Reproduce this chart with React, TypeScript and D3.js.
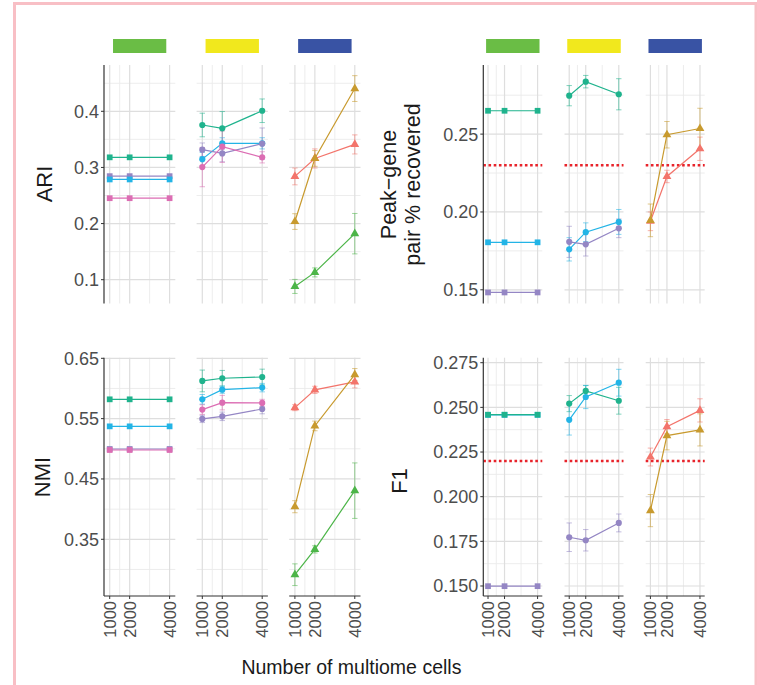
import * as d3 from "d3";

const W = 757;
const H = 685;

type Series = { key: string; v: number[]; e?: number[] };

const cells = [1000, 2000, 4000];
const minorCells = [1500, 3000];

// ARI
const ariTicks = [0.1, 0.2, 0.3, 0.4];
const ariMinor = [0.15, 0.25, 0.35, 0.45];
const ariSquare: Series[] = [
  { key: "teal", v: [0.318, 0.318, 0.318] },
  { key: "purple", v: [0.2845, 0.2845, 0.2845] },
  { key: "cyan", v: [0.2786, 0.2786, 0.2786] },
  { key: "pink", v: [0.2452, 0.2452, 0.2452] },
];
const ariCircle: Series[] = [
  { key: "teal", v: [0.3756, 0.3696, 0.401], e: [0.021, 0.03, 0.021] },
  { key: "cyan", v: [0.3148, 0.3429, 0.343], e: [0.012, 0.01, 0.01] },
  { key: "purple", v: [0.3316, 0.325, 0.3423], e: [0.012, 0.015, 0.028] },
  { key: "pink", v: [0.3006, 0.337, 0.318], e: [0.035, 0.028, 0.01] },
];
const ariTriangle: Series[] = [
  { key: "red", v: [0.284, 0.316, 0.341], e: [0.015, 0.017, 0.017] },
  { key: "gold", v: [0.2036, 0.316, 0.4405], e: [0.014, 0.014, 0.023] },
  { key: "green", v: [0.088, 0.113, 0.182], e: [0.0125, 0.008, 0.036] },
];

// Peak-gene pair % recovered
const peakTicks = [0.15, 0.2, 0.25];
const peakMinor = [0.175, 0.225, 0.275];
const peakBaseline = 0.23;
const peakSquare: Series[] = [
  { key: "teal", v: [0.265, 0.265, 0.265] },
  { key: "cyan", v: [0.1805, 0.1805, 0.1805] },
  { key: "purple", v: [0.1483, 0.1483, 0.1483] },
];
const peakCircle: Series[] = [
  { key: "teal", v: [0.2747, 0.2837, 0.2756], e: [0.0065, 0.004, 0.01] },
  { key: "cyan", v: [0.176, 0.187, 0.1936], e: [0.0075, 0.006, 0.008] },
  { key: "purple", v: [0.1808, 0.1792, 0.1895], e: [0.01, 0.0075, 0.006] },
];
const peakTriangle: Series[] = [
  { key: "red", v: [0.194, 0.2228, 0.2406], e: [0.006, 0.004, 0.0075] },
  { key: "gold", v: [0.1946, 0.2496, 0.2536], e: [0.0105, 0.0085, 0.013] },
];

// NMI
const nmiTicks = [0.35, 0.45, 0.55, 0.65];
const nmiMinor = [0.3, 0.4, 0.5, 0.6];
const nmiSquare: Series[] = [
  { key: "teal", v: [0.582, 0.582, 0.582] },
  { key: "cyan", v: [0.5372, 0.5372, 0.5372] },
  { key: "purple", v: [0.4997, 0.4997, 0.4997] },
  { key: "pink", v: [0.498, 0.498, 0.498] },
];
const nmiCircle: Series[] = [
  { key: "teal", v: [0.6125, 0.6169, 0.619], e: [0.018, 0.013, 0.013] },
  { key: "cyan", v: [0.582, 0.598, 0.6014], e: [0.008, 0.006, 0.007] },
  { key: "pink", v: [0.565, 0.5765, 0.576], e: [0.008, 0.012, 0.006] },
  { key: "purple", v: [0.5495, 0.5538, 0.566], e: [0.006, 0.007, 0.008] },
];
const nmiTriangle: Series[] = [
  { key: "red", v: [0.5682, 0.5976, 0.6109], e: [0.005, 0.006, 0.01] },
  { key: "gold", v: [0.404, 0.5379, 0.623], e: [0.01, 0.008, 0.01] },
  { key: "green", v: [0.2913, 0.3333, 0.4306], e: [0.018, 0.006, 0.046] },
];

// F1
const f1Ticks = [0.15, 0.175, 0.2, 0.225, 0.25, 0.275];
const f1Minor = [0.1625, 0.1875, 0.2125, 0.2375, 0.2625];
const f1Baseline = 0.22;
const f1Square: Series[] = [
  { key: "cyan", v: [0.2458, 0.2458, 0.2458] },
  { key: "teal", v: [0.2459, 0.2459, 0.2459] },
  { key: "purple", v: [0.1499, 0.1499, 0.1499] },
];
const f1Circle: Series[] = [
  { key: "teal", v: [0.2521, 0.2592, 0.2537], e: [0.0045, 0.003, 0.0075] },
  { key: "cyan", v: [0.243, 0.2558, 0.2638], e: [0.0085, 0.0065, 0.0075] },
  { key: "purple", v: [0.1773, 0.1756, 0.1853], e: [0.008, 0.006, 0.005] },
];
const f1Triangle: Series[] = [
  { key: "red", v: [0.2222, 0.2392, 0.2483], e: [0.005, 0.004, 0.0065] },
  { key: "gold", v: [0.1922, 0.2342, 0.2374], e: [0.009, 0.008, 0.009] },
];

const colors: Record<string, string> = {
  teal: "#1fb38d",
  cyan: "#23b4e6",
  purple: "#9486c4",
  pink: "#dc6db3",
  red: "#f3746b",
  gold: "#c89a2e",
  green: "#4cb548",
};
const stripColors = ["#6abd45", "#f1e81d", "#3953a4"];
const shapes = [d3.symbolSquare, d3.symbolCircle, d3.symbolTriangle];
const shapeSizes = [33, 30, 34];

const tickFont = "'Liberation Sans', Arial, sans-serif";

type GroupProps = {
  x0: number;
  fw: number;
  step: number;
  top: number;
  bottom: number;
  domain: [number, number];
  majors: number[];
  minors: number[];
  fmt: (v: number) => string;
  facets: Series[][];
  hline?: number;
  xAxis?: boolean;
};

function Group({ x0, fw, step, top, bottom, domain, majors, minors, fmt, facets, hline, xAxis }: GroupProps) {
  const y = d3.scaleLinear().domain(domain).range([bottom, top]);
  return (
    <g>
      {facets.map((series, fi) => {
        const fx = x0 + fi * step;
        const pad = fw * 0.08;
        const x = d3.scaleLinear().domain([1000, 4000]).range([fx + pad, fx + fw - pad]);
        const line = d3
          .line<number>()
          .x((_d, i) => x(cells[i]))
          .y((d) => y(d));
        const sym = d3.symbol().type(shapes[fi]).size(shapeSizes[fi]);
        return (
          <g key={fi}>
            {minors.map((t) => (
              <line key={"ym" + t} x1={fx} x2={fx + fw} y1={y(t)} y2={y(t)} stroke="#ebebeb" strokeWidth={0.9} />
            ))}
            {minorCells.map((c) => (
              <line key={"xm" + c} x1={x(c)} x2={x(c)} y1={top} y2={bottom} stroke="#ebebeb" strokeWidth={0.9} />
            ))}
            {majors.map((t) => (
              <line key={"yM" + t} x1={fx} x2={fx + fw} y1={y(t)} y2={y(t)} stroke="#dedede" strokeWidth={1.2} />
            ))}
            {cells.map((c) => (
              <line key={"xM" + c} x1={x(c)} x2={x(c)} y1={top} y2={bottom} stroke="#dedede" strokeWidth={1.2} />
            ))}
            {hline !== undefined && (
              <line
                x1={fx}
                x2={fx + fw}
                y1={y(hline)}
                y2={y(hline)}
                stroke="#e8232a"
                strokeWidth={2.4}
                strokeDasharray="2.6,2.6"
              />
            )}
            {series.map((s) => (
              <path key={"l" + s.key} d={line(s.v) ?? ""} fill="none" stroke={colors[s.key]} strokeWidth={1.2} />
            ))}
            {series.map((s) =>
              s.e ? (
                <g key={"e" + s.key} stroke={colors[s.key]} strokeOpacity={0.55} strokeWidth={1}>
                  {s.v.map((v, i) => {
                    const cx = x(cells[i]);
                    const y1 = y(v - s.e![i]);
                    const y2 = y(v + s.e![i]);
                    return (
                      <g key={i}>
                        <line x1={cx} x2={cx} y1={y1} y2={y2} />
                        <line x1={cx - 2.7} x2={cx + 2.7} y1={y1} y2={y1} />
                        <line x1={cx - 2.7} x2={cx + 2.7} y1={y2} y2={y2} />
                      </g>
                    );
                  })}
                </g>
              ) : null
            )}
            {series.map((s) =>
              s.v.map((v, i) => (
                <path
                  key={"p" + s.key + i}
                  d={sym() ?? ""}
                  transform={`translate(${x(cells[i])},${y(v)})`}
                  fill={colors[s.key]}
                />
              ))
            )}
            {xAxis && (
              <g>
                <line x1={fx} x2={fx + fw} y1={bottom} y2={bottom} stroke="#333" strokeWidth={1.1} />
                {cells.map((c) => (
                  <g key={"xt" + c}>
                    <line x1={x(c)} x2={x(c)} y1={bottom} y2={bottom + 3} stroke="#333" strokeWidth={1} />
                    <text
                      transform={`translate(${x(c)},${bottom + 5}) rotate(-90)`}
                      textAnchor="end"
                      dy="0.36em"
                      fontFamily={tickFont}
                      fontSize={16.5}
                      fill="#4d4d4d"
                    >
                      {c}
                    </text>
                  </g>
                ))}
              </g>
            )}
          </g>
        );
      })}
      {facets.map((_s, fi) => {
        const cx = x0 + fi * step + fw / 2;
        return <rect key={"s" + fi} x={cx - 26.5} y={39} width={53} height={14} fill={stripColors[fi]} />;
      })}
      <line x1={x0} x2={x0} y1={top} y2={bottom} stroke="#333" strokeWidth={1.2} />
      {majors.map((t) => (
        <g key={"yt" + t}>
          <line x1={x0 - 3} x2={x0} y1={y(t)} y2={y(t)} stroke="#333" strokeWidth={1} />
          <text
            x={x0 - 5}
            y={y(t)}
            dy="0.36em"
            textAnchor="end"
            fontFamily={tickFont}
            fontSize={18}
            fill="#4d4d4d"
          >
            {fmt(t)}
          </text>
        </g>
      ))}
    </g>
  );
}

export default function App() {
  const titleFont = "'Liberation Sans', Arial, sans-serif";
  const left = { x0: 104, fw: 71.3, step: 92.6 };
  const right = { x0: 483.3, fw: 59, step: 81.2 };
  const topRow = { top: 65, bottom: 303.5 };
  const botRow = { top: 357.7, bottom: 596 };
  return (
    <svg width={W} height={H} style={{ position: "absolute", left: 0, top: 0, background: "#fff" }}>
      <rect x={0} y={0} width={W} height={H} fill="#fff" />
      <rect x={14.5} y={3.5} width={741.5} height={690} fill="none" stroke="#f8bfc5" strokeWidth={3} />

      <Group
        {...left}
        {...topRow}
        domain={[0.0576, 0.4825]}
        majors={ariTicks}
        minors={ariMinor}
        fmt={d3.format(".1f")}
        facets={[ariSquare, ariCircle, ariTriangle]}
      />
      <Group
        {...right}
        {...topRow}
        domain={[0.1412, 0.2944]}
        majors={peakTicks}
        minors={peakMinor}
        fmt={d3.format(".2f")}
        facets={[peakSquare, peakCircle, peakTriangle]}
        hline={peakBaseline}
      />
      <Group
        {...left}
        {...botRow}
        domain={[0.256, 0.651]}
        majors={nmiTicks}
        minors={nmiMinor}
        fmt={d3.format(".2f")}
        facets={[nmiSquare, nmiCircle, nmiTriangle]}
        xAxis
      />
      <Group
        {...right}
        {...botRow}
        domain={[0.1444, 0.2778]}
        majors={f1Ticks}
        minors={f1Minor}
        fmt={d3.format(".3f")}
        facets={[f1Square, f1Circle, f1Triangle]}
        hline={f1Baseline}
        xAxis
      />

      <g fontFamily={titleFont} fill="#1a1a1a" fontSize={22} textAnchor="middle">
        <text transform="translate(52,184) rotate(-90)">ARI</text>
        <text transform="translate(50,477) rotate(-90)">NMI</text>
        <text transform="translate(406.5,481) rotate(-90)">F1</text>
        <text transform="translate(396,184.5) rotate(-90)" fontSize={21.5}>
          Peak−gene
        </text>
        <text transform="translate(419.5,184.5) rotate(-90)" fontSize={21.5}>
          pair % recovered
        </text>
        <text x={351.4} y={674} fontSize={19.5}>
          Number of multiome cells
        </text>
      </g>
    </svg>
  );
}
